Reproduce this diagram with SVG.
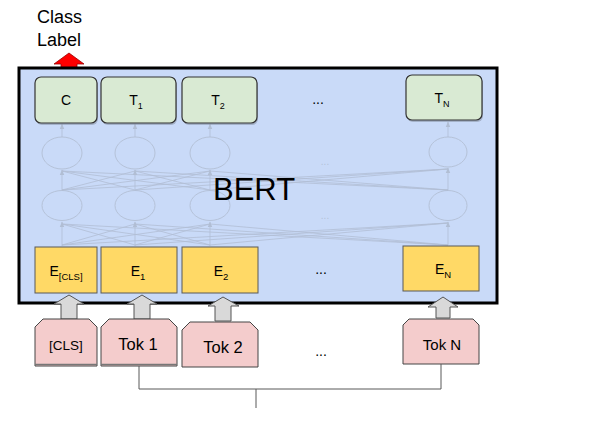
<svg xmlns="http://www.w3.org/2000/svg" width="598" height="427" viewBox="0 0 598 427">
<style>
.t{font-family:"Liberation Sans",Arial,sans-serif;fill:#000}
.g{fill:#d9ead3;stroke:#333;stroke-width:1.2}
.y{fill:#ffd966;stroke:#595959;stroke-width:1}
.p{fill:#f4cccc;stroke:#444;stroke-width:1}
.ga{fill:#d9d9d9;stroke:#555;stroke-width:1}
.nn{stroke:#b1bed4;stroke-width:0.8;fill:none}
.el{fill:none;stroke:#b5c2d8;stroke-width:1}
.sh{fill:#7f8a99;opacity:0.5}
.con{stroke:#595959;stroke-width:1;fill:none}
</style>
<defs>
<marker id="fa" markerWidth="6" markerHeight="6" refX="5" refY="3" orient="auto" markerUnits="userSpaceOnUse">
<path d="M0,0.8 L5.5,3 L0,5.2 z" fill="#b1bed4"/>
</marker>
</defs>
<g id="class-label">
<text class="t" x="37" y="23" font-size="18">Class</text>
<text class="t" x="37" y="46" font-size="18">Label</text>
<polygon points="69,53 84,64 77,64 77,77 61,77 61,64 54,64" fill="#ff0000" stroke="#990000" stroke-width="0.8"/>
</g>
<g id="bert">
<rect x="19" y="68" width="478" height="235" fill="#c9daf8" stroke="#000" stroke-width="3"/>
</g>
<g id="network">
<ellipse class="el" cx="62" cy="153" rx="20" ry="16"/>
<ellipse class="el" cx="135" cy="153" rx="20" ry="16"/>
<ellipse class="el" cx="210" cy="153" rx="20" ry="16"/>
<ellipse class="el" cx="448" cy="152" rx="19" ry="15"/>
<ellipse class="el" cx="62" cy="205.5" rx="20" ry="15"/>
<ellipse class="el" cx="135" cy="205.5" rx="20" ry="15"/>
<ellipse class="el" cx="210" cy="205.5" rx="20" ry="15"/>
<ellipse class="el" cx="448" cy="205.5" rx="19" ry="15"/>
<text x="325" y="165" font-family="Liberation Sans,Arial,sans-serif" font-size="10" fill="#b5c2d8" text-anchor="middle">...</text>
<text x="325" y="219" font-family="Liberation Sans,Arial,sans-serif" font-size="10" fill="#b5c2d8" text-anchor="middle">...</text>
<g class="nn" marker-end="url(#fa)">
<path d="M62,137 V124"/><path d="M135,137 V124"/><path d="M210,137 V124"/><path d="M448,137 V122"/>
<path d="M62,190 V170"/><path d="M135,190 V170"/><path d="M210,190 V170"/><path d="M448,190 V168"/>
<path d="M62,246 V222"/><path d="M135,246 V222"/><path d="M210,246 V222"/><path d="M448,245 V222"/>
</g>
<g class="nn">
<path d="M135,190 L62,171"/><path d="M210,190 L62,171"/><path d="M448,190 L62,171"/>
<path d="M62,190 L135,171"/><path d="M210,190 L135,171"/><path d="M448,190 L135,171"/>
<path d="M62,190 L210,171"/><path d="M135,190 L210,171"/><path d="M448,190 L210,171"/>
<path d="M62,190 L448,169"/><path d="M135,190 L448,169"/><path d="M210,190 L448,169"/>
<path d="M135,245 L62,224"/><path d="M210,245 L62,224"/><path d="M448,245 L62,224"/>
<path d="M62,245 L135,224"/><path d="M210,245 L135,224"/><path d="M448,245 L135,224"/>
<path d="M62,245 L210,224"/><path d="M135,245 L210,224"/><path d="M448,245 L210,224"/>
<path d="M62,245 L448,223"/><path d="M135,245 L448,223"/><path d="M210,245 L448,223"/>
</g>
</g>
<text class="t" x="213" y="200" font-size="31">BERT</text>
<g id="out-C">
<rect class="sh" x="36" y="79" width="62" height="46" rx="6"/>
<rect class="g" x="35" y="77" width="62" height="46" rx="6"/>
<text class="t" x="66" y="105" font-size="14" text-anchor="middle">C</text>
</g>
<g id="out-T1">
<rect class="sh" x="102" y="79" width="75" height="46" rx="6"/>
<rect class="g" x="101" y="77" width="75" height="46" rx="6"/>
<text class="t" x="136" y="105" font-size="14" text-anchor="middle">T<tspan font-size="9" dy="4">1</tspan></text>
</g>
<g id="out-T2">
<rect class="sh" x="183" y="79" width="75" height="46" rx="6"/>
<rect class="g" x="182" y="77" width="75" height="46" rx="6"/>
<text class="t" x="218" y="105" font-size="14" text-anchor="middle">T<tspan font-size="9" dy="4">2</tspan></text>
</g>
<text class="t" x="318" y="104" font-size="14" text-anchor="middle">...</text>
<g id="out-TN">
<rect class="sh" x="407" y="77" width="76" height="45" rx="6"/>
<rect class="g" x="406" y="75" width="76" height="45" rx="6"/>
<text class="t" x="442" y="103" font-size="14" text-anchor="middle">T<tspan font-size="9" dy="4">N</tspan></text>
</g>
<g id="emb-CLS">
<rect class="y" x="35" y="247" width="62" height="46"/>
<text class="t" x="66" y="276" font-size="14" text-anchor="middle">E<tspan font-size="9.5" dy="4">[CLS]</tspan></text>
</g>
<g id="emb-1">
<rect class="y" x="101" y="247" width="76" height="46"/>
<text class="t" x="138" y="276" font-size="14" text-anchor="middle">E<tspan font-size="9.5" dy="4">1</tspan></text>
</g>
<g id="emb-2">
<rect class="y" x="182" y="247" width="76" height="46"/>
<text class="t" x="221" y="276" font-size="14" text-anchor="middle">E<tspan font-size="9.5" dy="4">2</tspan></text>
</g>
<text class="t" x="321" y="274" font-size="14" text-anchor="middle">...</text>
<g id="emb-N">
<rect class="y" x="403" y="246" width="76" height="45"/>
<text class="t" x="443" y="274" font-size="14" text-anchor="middle">E<tspan font-size="9.5" dy="4">N</tspan></text>
</g>
<g id="in-arrows">
<polygon class="ga" points="69,295 84,304 77,304 77,319 61,319 61,304 54,304"/>
<polygon class="ga" points="142,295 157,304 150,304 150,319 134,319 134,304 127,304"/>
<polygon class="ga" points="223,297 239,306 231,306 231,321 215,321 215,306 208,306"/>
<polygon class="ga" points="443,297 458,307 450,307 450,318 436,318 436,307 428,307"/>
</g>
<g id="tok-CLS">
<path class="p" d="M35,327 L43,319 H89 L97,327 V366 H35 Z"/>
<path d="M35,364.5 H97" stroke="#777" stroke-width="1.5"/>
<text class="t" x="66" y="350" font-size="13.5" text-anchor="middle">[CLS]</text>
</g>
<g id="tok-1">
<path class="p" d="M101,327 L109,319 H169 L177,327 V366 H101 Z"/>
<path d="M101,364.5 H177" stroke="#777" stroke-width="1.5"/>
<text class="t" x="138" y="350" font-size="16.5" text-anchor="middle">Tok 1</text>
</g>
<g id="tok-2">
<path class="p" d="M182,330 L190,322 H250 L258,330 V367 H182 Z"/>
<text class="t" x="223" y="353" font-size="16.5" text-anchor="middle">Tok 2</text>
</g>
<text class="t" x="321" y="356" font-size="14" text-anchor="middle">...</text>
<g id="tok-N">
<path class="p" d="M403,325 L409,319 H473 L479,325 V364 H403 Z"/>
<text class="t" x="442" y="350" font-size="15" text-anchor="middle">Tok N</text>
</g>
<g id="connectors">
<path class="con" d="M139,366 V389 H441 V364"/>
<path class="con" d="M256,389 V408"/>
</g>
</svg>
